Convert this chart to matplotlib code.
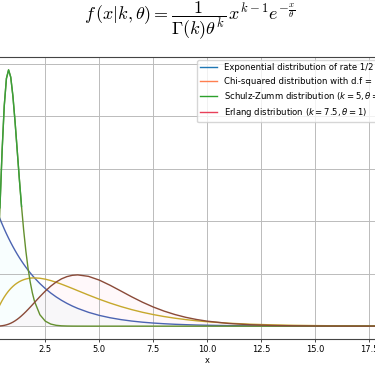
import numpy as np
import matplotlib
matplotlib.use('Agg')
import matplotlib.pyplot as plt
from matplotlib.lines import Line2D

# sample points along x
x = [0.0, 0.1, 0.2, 0.3, 0.4, 0.5, 0.6, 0.7, 0.8, 0.9, 1.0, 1.1, 1.2, 1.3, 1.4, 1.5,
     1.6, 1.7, 1.8, 1.9, 2.0, 2.25, 2.5, 2.75, 3.0, 3.25, 3.5, 3.75, 4.0, 4.5, 5.0,
     5.5, 6.0, 6.5, 7.0, 7.5, 8.0, 8.5, 9.0, 9.5, 10, 11, 12, 13, 14, 15, 16, 17, 18, 19, 20]

expo = [0.5, 0.4756, 0.4524, 0.4304, 0.4094, 0.3894, 0.3704, 0.3523, 0.3352, 0.3188, 0.3033,
        0.2885, 0.2744, 0.2610, 0.2483, 0.2362, 0.2247, 0.2137, 0.2033, 0.1934, 0.1839,
        0.1623, 0.1433, 0.1264, 0.1116, 0.0985, 0.0869, 0.0767, 0.0677, 0.0527, 0.0410,
        0.0320, 0.0249, 0.0194, 0.0151, 0.0118, 0.0092, 0.0071, 0.0056, 0.0043, 0.0034,
        0.0020, 0.0012, 0.0008, 0.0005, 0.0003, 0.0002, 0.0001, 0.0001, 0.0, 0.0]

chi2 = [0.0, 0.0238, 0.0452, 0.0646, 0.0819, 0.0974, 0.1111, 0.1233, 0.1341, 0.1435, 0.1516,
        0.1587, 0.1646, 0.1697, 0.1738, 0.1771, 0.1797, 0.1816, 0.1830, 0.1837, 0.1839,
        0.1826, 0.1791, 0.1738, 0.1673, 0.1600, 0.1520, 0.1438, 0.1353, 0.1186, 0.1026,
        0.0879, 0.0747, 0.0630, 0.0528, 0.0441, 0.0366, 0.0303, 0.0250, 0.0205, 0.0168,
        0.0112, 0.0074, 0.0049, 0.0032, 0.0021, 0.0013, 0.0009, 0.0006, 0.0004, 0.0002]

schulz = [0.0, 0.0079, 0.0766, 0.2353, 0.4511, 0.6680, 0.8402, 0.9441, 0.9769, 0.9490, 0.8773,
          0.7791, 0.6693, 0.5591, 0.4561, 0.3646, 0.2863, 0.2213, 0.1687, 0.1270, 0.0946,
          0.0434, 0.0190, 0.0080, 0.0032, 0.0012, 0.0005, 0.0002, 0.0001, 0.0, 0.0,
          0.0, 0.0, 0.0, 0.0, 0.0, 0.0, 0.0, 0.0, 0.0, 0.0,
          0.0, 0.0, 0.0, 0.0, 0.0, 0.0, 0.0, 0.0, 0.0, 0.0]

erlang = [0.0, 0.0000, 0.0001, 0.0003, 0.0007, 0.0016, 0.0030, 0.0050, 0.0077, 0.0111, 0.0153,
          0.0203, 0.0260, 0.0324, 0.0395, 0.0471, 0.0551, 0.0636, 0.0723, 0.0812, 0.0902,
          0.1126, 0.1336, 0.1523, 0.1680, 0.1803, 0.1888, 0.1938, 0.1954, 0.1898, 0.1755,
          0.1558, 0.1339, 0.1118, 0.0912, 0.0729, 0.0573, 0.0443, 0.0337, 0.0254, 0.0189,
          0.0102, 0.0053, 0.0027, 0.0013, 0.0006, 0.0003, 0.0001, 0.0001, 0.0, 0.0]

labels = ['Exponential distribution of rate 1/2',
          'Chi-squared distribution with d.f = 4',
          r'Schulz-Zumm distribution ($k = 5, \theta = 0.2$)',
          r'Erlang distribution ($k = 7.5, \theta = 1$)']
legend_colors = ['#1f77b4', '#ff7f50', '#2ca02c', '#e8405a']

x = np.array(x)
schulz = np.array(schulz)

fig = plt.figure(figsize=(3.75, 3.66), dpi=100)
ax = fig.add_axes([-30.3 / 375, 1 - 339 / 366, 475.2 / 375, 282 / 366])

# faint tints under the curves
ax.fill_between(x, erlang, color='#ffa0c4', alpha=0.07, lw=0)
ax.fill_between(x, expo, color='#a0f4f4', alpha=0.07, lw=0)

ax.plot(x, expo, color='#4c64b2', lw=1.0)
ax.plot(x, chi2, color='#c6a82c', lw=1.0)
ax.plot(x, schulz, color='#64902e', lw=1.0)
upper = np.where(schulz > 0.45, schulz, np.nan)
ax.plot(x, upper, color='#3a9f3a', lw=1.0)
ax.plot(x, erlang, color='#8a4a38', lw=1.0)

ax.set_xlim(-1, 21)
ax.set_ylim(-0.049, 1.026)
ax.set_xticks(np.arange(0, 22.5, 2.5))
ax.set_yticks([0, 0.2, 0.4, 0.6, 0.8, 1.0])
ax.grid(True, color='#bbbbbb', lw=0.7)
ax.tick_params(labelsize=6, length=2, width=0.5, pad=2)
for s in ax.spines.values():
    s.set_linewidth(0.8)
    s.set_color('#444444')
ax.set_xlabel('x', fontsize=6, labelpad=2)

handles = [Line2D([], [], color=c, lw=1.0) for c in legend_colors]
ax.legend(handles, labels, fontsize=6.1, loc='upper left',
          bbox_to_anchor=(197 / 375, 1 - 60 / 366), bbox_transform=fig.transFigure,
          borderaxespad=0)

fig.text(190 / 375, 1 - 21 / 366,
         r'$f\,(x|k,\theta) = \dfrac{1}{\Gamma(k)\theta^k}\,x^{k-1}e^{-\frac{x}{\theta}}$',
         fontsize=13, ha='center', va='center', math_fontfamily='cm')

fig.savefig('out.png', dpi=100)
